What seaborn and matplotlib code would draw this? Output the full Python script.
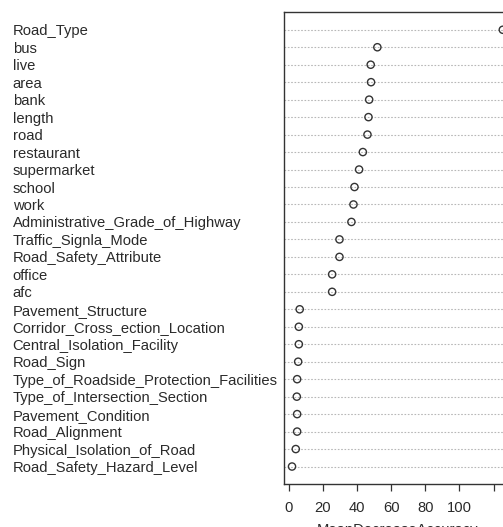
import matplotlib
matplotlib.use("Agg")
import matplotlib.pyplot as plt
import seaborn as sns
import pandas as pd

features = [
    "Road_Type", "bus", "live", "area", "bank", "length", "road", "restaurant",
    "supermarket", "school", "work", "Administrative_Grade_of_Highway",
    "Traffic_Signla_Mode", "Road_Safety_Attribute", "office", "afc",
    "Pavement_Structure", "Corridor_Cross_ection_Location",
    "Central_Isolation_Facility", "Road_Sign",
    "Type_of_Roadside_Protection_Facilities", "Type_of_Intersection_Section",
    "Pavement_Condition", "Road_Alignment", "Physical_Isolation_of_Road",
    "Road_Safety_Hazard_Level",
]
importance = [
    125.4, 51.9, 48.0, 48.2, 47.1, 46.7, 46.1, 43.4,
    41.2, 38.5, 37.9, 36.7,
    29.7, 29.7, 25.4, 25.4,
    6.4, 5.9,
    5.9, 5.5,
    4.9, 4.7,
    4.9, 4.9, 4.1,
    1.9,
]
xticks = [0, 20, 40, 60, 80, 100, 120]
xticklabels = ["0", "20", "40", "60", "80", "100", ""]

df = pd.DataFrame({"feature": features, "MeanDecreaseAccuracy": importance})

sns.set_style("white")
plt.rcParams["font.family"] = ["Liberation Sans", "DejaVu Sans"]

W, H = 503, 527
fig = plt.figure(figsize=(W / 100, H / 100), dpi=100)
left, right, top, bottom = 284, 511, 12.3, 484
ax = fig.add_axes([left / W, 1 - bottom / H, (right - left) / W, (bottom - top) / H])

sns.stripplot(data=df, x="MeanDecreaseAccuracy", y="feature", order=features,
              jitter=False, ax=ax, size=5.2, color="#333333", zorder=3)
for coll in ax.collections:
    coll.set_facecolor("none")
    coll.set_edgecolor("#333333")
    coll.set_linewidth(1.0)
    coll.set_clip_on(False)

n = len(features)
ax.set_ylim(n, -1)
ax.set_xlim(-2.8, 130.2)

for y in range(n):
    ax.axhline(y, color="#b8b8b8", linestyle=(0, (1.5, 1.5)), linewidth=0.8, zorder=1)

for s in ax.spines.values():
    s.set_color("#333333")
    s.set_linewidth(1.0)

fs = 10.6
ax.set_xticks(xticks)
ax.set_xticklabels(xticklabels, fontsize=fs, color="#2a2a2a")
ax.tick_params(axis="x", direction="out", length=5, width=0.9, color="#333333",
               pad=7, bottom=True)
ax.tick_params(axis="y", length=0, pad=195.3)
ax.set_yticks(range(n))
ax.set_yticklabels(features, fontsize=fs, color="#2a2a2a", ha="left")
ax.set_ylabel("")
ax.set_xlabel("MeanDecreaseAccuracy", fontsize=fs, color="#2a2a2a", labelpad=6)

fig.savefig("out.png", dpi=100)
